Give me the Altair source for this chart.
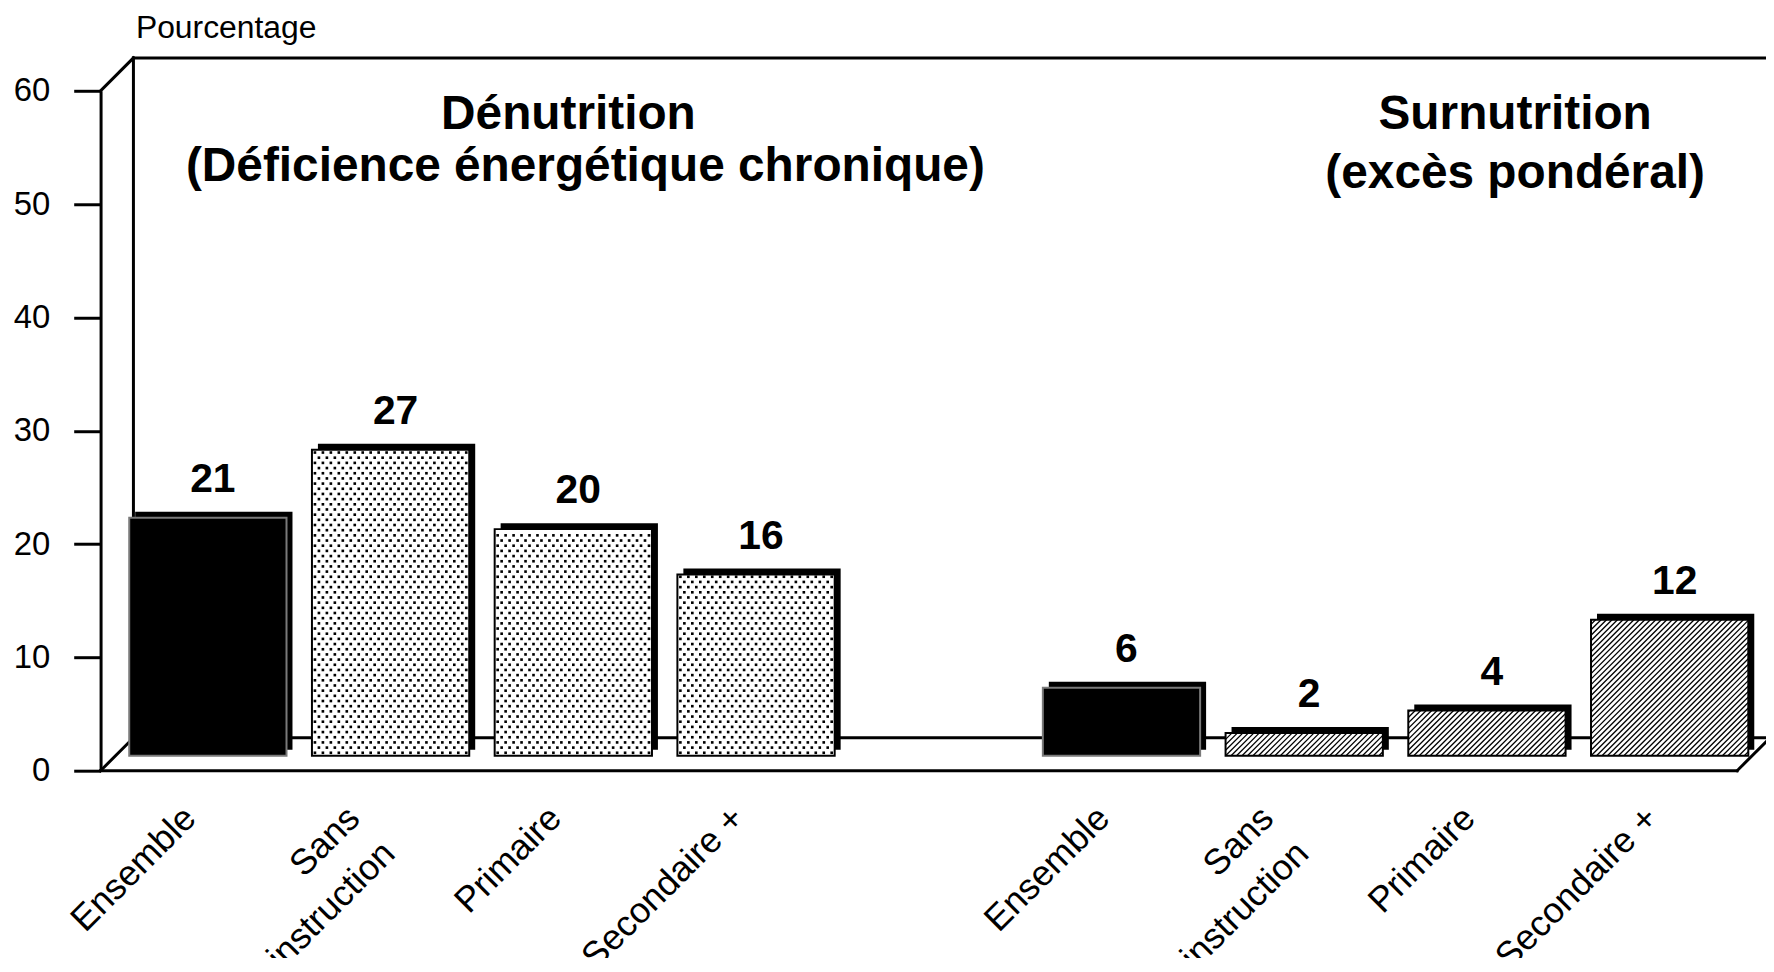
import math
import altair as alt
import pandas as pd

alt.data_transformers.disable_max_rows()

# ---------------- data ----------------
CATEGORIES = ["Ensemble", "Sans\ninstruction", "Primaire", "Secondaire +"]
DENUTRITION = [21, 27, 20, 16]
SURNUTRITION = [6, 2, 4, 12]
GROUP_TITLES = [["Dénutrition", "(Déficience énergétique chronique)"],
                ["Surnutrition", "(excès pondéral)"]]
Y_TICKS = [0, 10, 20, 30, 40, 50, 60]
Y_TITLE = "Pourcentage"

# ---------------- layout (pixels) ----------------
FONT = "Liberation Sans"
W, H = 1652, 683
PAD = {"left": 93, "top": 81, "right": 21, "bottom": 186}
N_SLOTS = 9
GROUP_START = [0, 5]
Y_MAX = 60
PX_X = W / N_SLOTS
PX_Y = H / Y_MAX
DEPTH = 33            # depth of the 3-D frame
BAR_SHIFT_X, BAR_SHIFT_Y = 16, -15
BAR_HALF = 79
BAR_DEPTH = 6
FLOOR_END_PX = 1644   # front floor length from the axis
LABEL_Y_PX = 50       # below the front floor
MULTI_SHIFT_PX = -19
TITLE_POS = [[(470, 645), (487, 592)], [(1421, 645), (1421, 585)]]  # (x from axis, y above floor)

DX = DEPTH / PX_X
DY = DEPTH / PX_Y
FLOOR_END = FLOOR_END_PX / PX_X

# bars
bar_rows = []
for g, vals in enumerate([DENUTRITION, SURNUTRITION]):
    for i, (cat, v) in enumerate(zip(CATEGORIES, vals)):
        c = GROUP_START[g] + i + 0.5
        kind = "solid" if i == 0 else ("dots" if g == 0 else "hatch")
        bar_rows.append(dict(x=c - BAR_HALF / PX_X, x2=c + BAR_HALF / PX_X, xc=c,
                             y=0, y2=v, v=v, label=str(v), cat=cat, kind=kind))
bars = pd.DataFrame(bar_rows)

# dotted pattern
dot_rows = []
for b in bars[bars.kind == "dots"].itertuples():
    w, h = 2 * BAR_HALF, b.v * PX_Y
    j, vv = 0, 3.0
    while vv < h - 2:
        u = 3.0 + (j % 2) * 4
        while u < w - 2:
            dot_rows.append(dict(x=b.x + u / PX_X, y=vv / PX_Y))
            u += 8
        vv += 5.2
        j += 1
dots = pd.DataFrame(dot_rows)

# hatch pattern
SP = 5.5
hatch_rows = []
for b in bars[bars.kind == "hatch"].itertuples():
    w, h = 2 * BAR_HALF, b.v * PX_Y
    k = math.ceil(-h / SP)
    while k * SP < w:
        c = k * SP
        us, ue = max(0.0, c), min(w, h + c)
        if ue - us > 0.5:
            hatch_rows.append(dict(x=b.x + us / PX_X, y=(us - c) / PX_Y,
                                   x2=b.x + ue / PX_X, y2=(ue - c) / PX_Y))
        k += 1
hatch = pd.DataFrame(hatch_rows)

# frame
frame = pd.DataFrame([
    dict(x=0, y=0, x2=FLOOR_END, y2=0),
    dict(x=0, y=0, x2=DX, y2=DY),
    dict(x=0, y=Y_MAX, x2=DX, y2=Y_MAX + DY),
    dict(x=DX, y=DY, x2=DX, y2=Y_MAX + DY),
    dict(x=DX, y=Y_MAX + DY, x2=FLOOR_END + DX + 0.3, y2=Y_MAX + DY),
    dict(x=DX, y=DY, x2=FLOOR_END + DX, y2=DY),
    dict(x=FLOOR_END, y=0, x2=FLOOR_END + DX, y2=DY),
])

vlabels = pd.DataFrame(dict(x=bars.xc, y=bars.v, text=bars.label))

xl_rows = []
for b in bars.itertuples():
    nl = b.cat.count("\n")
    xl_rows.append(dict(x=b.xc + (MULTI_SHIFT_PX / PX_X if nl else 0),
                        y=-LABEL_Y_PX / PX_Y, text=b.cat))
xlabels = pd.DataFrame(xl_rows)

t_rows = []
for g, lines in enumerate(GROUP_TITLES):
    for ln, (tx, ty) in zip(lines, TITLE_POS[g]):
        t_rows.append(dict(x=tx / PX_X, y=ty / PX_Y, text=ln))
titles = pd.DataFrame(t_rows)

# ---------------- encodings ----------------
xscale = alt.Scale(domain=[0, N_SLOTS], nice=False, zero=False)
yscale = alt.Scale(domain=[0, Y_MAX], nice=False, zero=False)
yaxis = alt.Axis(values=Y_TICKS, format="d", title=Y_TITLE, titleAngle=0, titleAlign="left",
                 titleBaseline="middle", titleX=35, titleY=-64, titleFontSize=32,
                 titleFontWeight="normal", titleFont=FONT, titleColor="black",
                 labelFont=FONT, labelFontSize=33, labelColor="black", labelPadding=24,
                 labelFlush=False, labelOverlap=False,
                 tickSize=27, tickWidth=3, tickColor="black",
                 domainWidth=3, domainColor="black", grid=False)
X = alt.X("x:Q", scale=xscale, axis=None)
Y = alt.Y("y:Q", scale=yscale, axis=yaxis)

frame_layer = alt.Chart(frame).mark_rule(color="black", strokeWidth=3, strokeCap="square").encode(
    x=X, y=Y, x2="x2:Q", y2="y2:Q")

depth_layer = alt.Chart(bars).mark_rect(
    color="black",
    xOffset=BAR_SHIFT_X + BAR_DEPTH, x2Offset=BAR_SHIFT_X + BAR_DEPTH,
    yOffset=BAR_SHIFT_Y - BAR_DEPTH, y2Offset=BAR_SHIFT_Y - BAR_DEPTH,
).encode(x=X, x2="x2:Q", y=Y, y2="y2:Q")

face_layer = alt.Chart(bars).mark_rect(
    strokeWidth=2,
    xOffset=BAR_SHIFT_X, x2Offset=BAR_SHIFT_X,
    yOffset=BAR_SHIFT_Y, y2Offset=BAR_SHIFT_Y,
).encode(
    x=X, x2="x2:Q", y=Y, y2="y2:Q",
    fill=alt.Fill("kind:N", scale=alt.Scale(domain=["solid", "dots", "hatch"],
                                            range=["black", "white", "white"]), legend=None),
    stroke=alt.Stroke("kind:N", scale=alt.Scale(domain=["solid", "dots", "hatch"],
                                                range=["#7a7a7a", "black", "black"]), legend=None),
)

dots_layer = alt.Chart(dots).mark_square(
    size=7, color="black", opacity=1, xOffset=BAR_SHIFT_X, yOffset=BAR_SHIFT_Y,
).encode(x=X, y=Y)

hatch_layer = alt.Chart(hatch).mark_rule(
    color="black", strokeWidth=1.3,
    xOffset=BAR_SHIFT_X, x2Offset=BAR_SHIFT_X,
    yOffset=BAR_SHIFT_Y, y2Offset=BAR_SHIFT_Y,
).encode(x=X, y=Y, x2="x2:Q", y2="y2:Q")

value_layer = alt.Chart(vlabels).mark_text(
    font=FONT, fontSize=41, fontWeight="bold", color="black", align="center",
    baseline="middle", xOffset=BAR_SHIFT_X + 5, yOffset=BAR_SHIFT_Y - 38,
).encode(x=X, y=Y, text="text:N")

xlabel_layer = alt.Chart(xlabels).mark_text(
    font=FONT, fontSize=36, color="black", align="right", baseline="alphabetic",
    angle=315, lineBreak="\n", lineHeight=50, xOffset=6,
).encode(x=X, y=Y, text="text:N")

title_layer = alt.Chart(titles).mark_text(
    font=FONT, fontSize=48, fontWeight="bold", color="black", align="center",
    baseline="alphabetic",
).encode(x=X, y=Y, text="text:N")

chart = alt.layer(
    frame_layer, depth_layer, face_layer, dots_layer, hatch_layer,
    value_layer, xlabel_layer, title_layer,
).properties(
    width=W, height=H, padding=PAD,
    autosize=alt.AutoSizeParams(type="none"),
    background="white",
).configure_view(strokeWidth=0)

chart.save("out.html", embed_options={"renderer": "svg", "actions": False})
